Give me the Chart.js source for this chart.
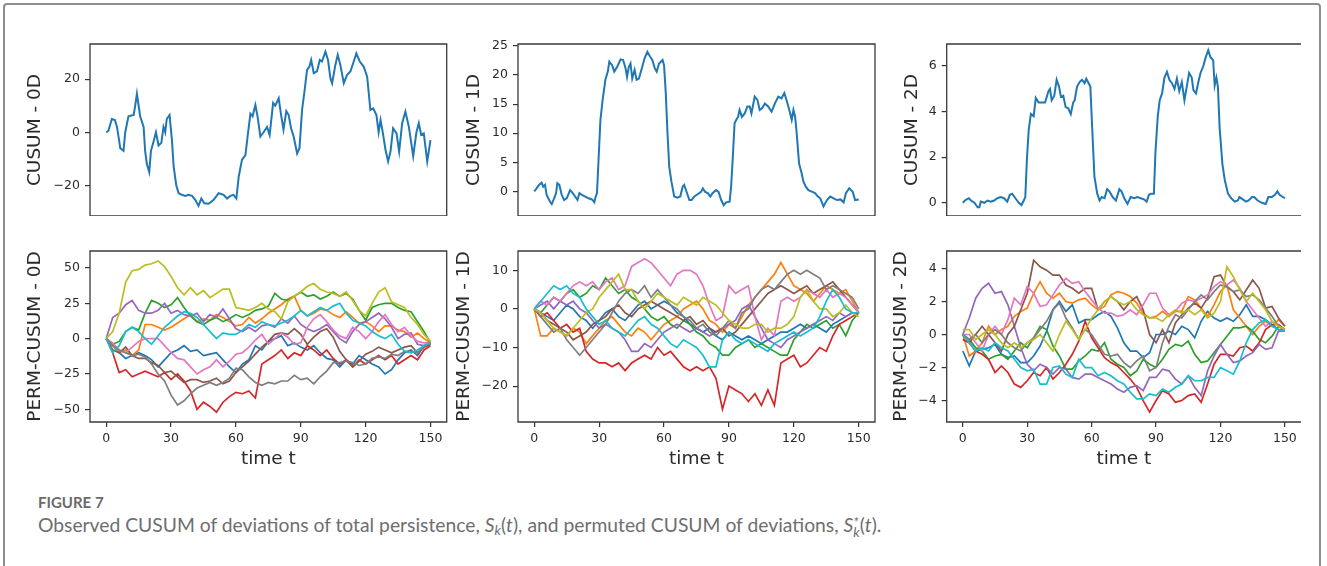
<!DOCTYPE html>
<html>
<head>
<meta charset="utf-8">
<script src="https://cdn.jsdelivr.net/npm/chart.js"></script>
<style>
  body { margin: 0; background: #fff; width: 1327px; height: 566px; position: relative; overflow: hidden; }
  .frame { position: absolute; left: 3px; top: 3px; width: 1318px; height: 620px; box-sizing: border-box;
           border: 2px solid #8e8e8e; border-radius: 4px; }
  canvas { position: absolute; }
  #figlabel { position: absolute; left: 38px; top: 493px; font: 700 15px/1.2 Lato, "Open Sans", sans-serif; color: #6a6a6a; }
  #caption { position: absolute; left: 38px; top: 513px; font: 400 19.3px/1.2 Lato, "Open Sans", sans-serif; color: #6e6e6e; white-space: nowrap; }
  #caption i { font-style: italic; }
  #caption sub { font-size: 0.7em; vertical-align: -0.25em; line-height: 0; }
  .ss { display: inline-block; font-size: 0.7em; line-height: 0.75em; vertical-align: -0.35em; font-style: italic; }
</style>
</head>
<body>
<div class="frame"></div>
<canvas id="tl" width="428" height="182" style="left:20px;top:34px"></canvas>
<canvas id="tm" width="428" height="182" style="left:448px;top:34px"></canvas>
<canvas id="tr" width="427" height="182" style="left:876px;top:34px"></canvas>
<canvas id="bl" width="428" height="240" style="left:20px;top:240px"></canvas>
<canvas id="bm" width="428" height="240" style="left:448px;top:240px"></canvas>
<canvas id="br" width="427" height="240" style="left:876px;top:240px"></canvas>
<div id="figlabel">FIGURE 7</div>
<div id="caption">Observed CUSUM of deviations of total persistence, <i>S<sub>k</sub></i>(<i>t</i>), and permuted CUSUM of deviations, <i>S</i><span class="ss">*<br>k</span>(<i>t</i>).</div>
<script>
const tObs0D = [0,1,2.6,4,5,6.5,8,8.8,10.3,12.7,13.4,14.2,15,15.7,17.3,18,18.8,19.9,20.7,21.9,23,24.2,25.5,26.5,27.3,28,29.3,30.4,31.2,32.4,33.5,35,36.6,38,39.7,41.2,42.7,44,45.4,47.4,49.7,52,54.3,55.9,57.4,58.9,60.2,61.3,62.8,64.4,65.4,66.7,67.7,69,70,71.3,72.8,74.4,75.6,77.2,78.2,79.8,80.9,82,83.3,84.4,85.5,86.7,88.3,89.4,90.6,91.8,92.9,94,94.8,96,97.5,98.8,99.8,101.4,102.6,103.7,104.5,106,107.1,108.3,109.9,111.4,113,114.5,115.7,117.3,119.1,120.7,122.2,123.5,125,126,126.9,128,129.2,130.4,131.5,132.7,134.3,135.5,136.9,138.4,140,142,143.5,144.6,145.7,146.9,148.5,150];
const cusum0D = [0,0.5,5,4.6,2,-6,-7,0,6,6.5,10,14.5,10,6,2,-7,-12,-15,-7,-3.5,0,-5,-4,2,0,5,6.5,-3,-13,-20,-23,-23.6,-24,-23.6,-24,-25.5,-27.8,-25,-26.8,-27,-25.5,-23,-23.6,-25,-24,-23.6,-25,-16.7,-10.4,-8.6,-1.6,7,6,10.3,6,-1.6,0,2,-1,11,10,12.8,6.5,1,8,6.5,1.5,-1.6,-8,-6,8.4,16,23.5,24.8,27.3,22.3,23,27.3,26.7,30.4,27.3,20.4,18.5,25.4,29.2,25.4,18.5,21.6,23,26.7,29.8,26.7,24.8,21,8.4,9,6.5,0,4.6,-0.4,-6.7,-11,-7.3,1.5,-0.4,-7.3,3.4,7.8,2,-9,0,3.4,-1,-0.4,-11,-3];

const tObs1D = [0,1.1,2.2,3.4,4.2,5,5.7,7.3,8.1,9.2,10.1,10.7,11.6,12.7,13.8,15,16.6,17.8,18.9,20,20.9,22,23.6,25.1,26.7,27.8,28.2,29,29.8,30.6,31.6,32.9,34,34.7,36,37,38.3,39.9,41.1,42.2,42.9,43.7,44.5,45.3,46.4,47.3,48.4,49.9,51,52.3,53.5,54.6,55.7,56.6,57.7,59.3,60,60.8,61.6,62.4,63.4,64.7,66.2,67.5,68.6,69.3,70.6,71.7,72.7,74,75.5,77.1,77.9,79,80.2,81.4,82.5,84.1,85.2,86.4,87.6,88.7,90.3,91,91.8,92.6,93.4,94.2,94.9,96,97.3,98.5,99.6,100.4,101.9,103.2,104.2,105.3,106.6,108.1,109.7,111.2,112.8,114.3,115.6,116.6,117.9,119,119.8,120.6,121.3,122.4,123.6,124.4,125.5,126.7,128.6,129.8,131.1,132.2,133.7,135.3,136.8,138.4,139.9,141.5,143,144.1,145.6,147.2,148.3,150];
const cusum1D = [0,0.5,1.1,1.5,0.8,1.1,-0.6,-1.8,-2.2,-1.2,-0.3,1.4,1.1,-0.6,-1.5,-1.2,0.2,-0.3,-0.9,-1.5,-0.3,-0.6,-0.9,-1.2,-1.4,-1.9,-1.2,-0.3,6,12.3,15.7,19.2,20.6,22.3,21.7,20.6,21.4,22.7,22.6,21.2,19.7,21.4,22,19.4,20.9,19.2,19.4,21.4,22.9,24,23.2,22.6,21.2,20.6,22,22.6,21.7,16.9,10,4.2,1.7,-0.9,-1.1,-0.9,0.8,1.1,-0.3,-1.5,-1.5,-0.9,-0.5,-0.1,0.5,-0.1,-0.3,-0.9,-0.3,0.2,-0.1,-1.5,-2.4,-1.9,-1.8,0.8,6,11.7,12.3,12.8,14,12.8,13.4,14.6,14.6,13.4,16.3,15.7,14,14.3,15.1,14.6,13.7,15.1,16.3,16,16.9,15.7,14,12.3,14,12.8,10,4.8,3.1,1.7,0.8,0.2,-0.1,-0.3,-0.9,-1.2,-2.6,-1.5,-0.9,-1.2,-1.5,-1.4,-1.9,-0.3,0.5,-0.1,-1.5,-1.4];

const tObs2D = [0,1,1.8,2.8,3.8,5.4,6.9,7.7,8.4,10,11.5,13,14.6,16.1,17.6,19.2,20.7,21.9,23,24.5,26.1,27.3,28.4,29.1,29.9,30.7,31.7,33,34,35.3,36.8,38.3,39.9,40.6,41.4,42.6,43.7,44.8,45.7,46.8,47.9,49.1,50.3,51.4,52.1,53.2,54.4,55.5,56.7,57.5,58.3,59.4,60.3,61.3,62.6,63.7,64.7,66,67.2,68.3,69.8,71.3,72.9,73.9,75.2,76.7,78.2,79.8,81.3,82.8,84.4,85.6,86.7,87.7,89,89.7,90.8,91.7,92.8,93.9,95.1,96.2,97.4,98.6,99.7,100.8,102,103.2,104.3,105.4,106.6,107.4,108.6,109.7,110.7,112,113,114.3,115.3,116.6,117.3,118.1,118.8,119.6,120.9,122,123.5,125,126.7,128.1,128.8,130.4,131.9,133.1,134.7,135.7,137.3,139.3,141.1,142.3,143.9,145.4,146.5,147.5,150];
const cusum2D = [0,0.1,0.15,0.2,0.1,0,-0.2,-0.2,0.05,0,0.1,0.05,0.1,0.2,0.25,0.2,0.05,0.35,0.4,0.2,0,-0.1,0.1,0.25,2,3.2,3.9,3.8,4.6,4.4,4.4,4.4,4.9,5,4.5,4.7,5.4,5.1,4.65,4.7,4.2,4.15,3.9,4.4,4.5,5.1,5.3,5.4,5.25,5.45,5.3,5.1,3.2,1.15,0.4,0.1,0.25,0.2,0.6,0.5,0.25,0.1,0.6,0.5,0.2,-0.05,0.25,0.2,0.25,0.2,0.15,0.05,0.35,0.4,0.4,2.2,3.8,4.5,4.8,5.5,5.75,5.4,5.25,5,5.45,4.9,5.3,4.5,5.1,5.7,5.5,4.95,4.8,5.3,5.7,6,6.35,6.7,6.4,6.25,5.15,5.5,5.1,3.3,1.7,1,0.4,0.2,0.05,0.1,0.25,0.15,0.05,0.1,0.25,0.25,0.1,0,-0.05,0.25,0.25,0.35,0.5,0.35,0.2];

// ---- permuted CUSUM (bottom row), 10 permutations, sampled every 3 steps ----
const tPerm = [0,3,6,9,12,15,18,21,24,27,30,33,36,39,42,45,48,51,54,57,60,63,66,69,72,75,78,81,84,87,90,93,96,99,102,105,108,111,114,117,120,123,126,129,132,135,138,141,144,147,150];

const perm0D = [
  [0,-5,-10,-14,-12,-10,-12,-15,-20,-15,-10,-8,-5,-9,-8,-12,-11,-10,-15,-20,-24,-18,-15,-5,-8,-2,0,2,-5,-3,-6,-8,-5,-10,-14,-15,-20,-15,-18,-12,-15,-18,-20,-25,-22,-15,-10,-8,-12,-5,-4],
  [0,-5,-10,-8,-12,-8,10,10,8,6,8,11,14,17,12,14,13,17,15,12,9,10,15,11,14,18,21,24,28,30,20,16,18,21,20,17,15,19,15,11,12,9,5,9,9,6,5,1,4,0,-3],
  [0,-4,-2,5,8,6,18,27,25,22,24,29,22,16,12,10,13,15,12,14,17,15,17,20,21,23,32,28,27,30,33,30,31,28,30,33,30,32,28,20,13,22,24,25,25,22,20,19,12,5,-3],
  [0,-10,-24,-22,-27,-25,-23,-25,-27,-24,-29,-25,-30,-37,-50,-45,-48,-52,-45,-41,-38,-39,-37,-42,-18,-15,-12,-8,-14,-10,-12,-5,-8,-12,-8,-14,-18,-15,-20,-15,-18,-15,-12,-15,-12,-18,-15,-12,-15,-8,-5],
  [0,15,18,24,27,20,18,18,20,25,18,20,17,16,18,12,17,15,21,14,7,5,8,5,9,10,8,14,11,16,10,7,5,7,10,5,0,-3,5,10,12,15,18,14,8,0,3,4,-4,-5,-3],
  [0,-8,-10,-6,-12,-14,-14,-17,-19,-24,-23,-27,-31,-29,-29,-31,-30,-28,-32,-30,-24,-20,-16,-11,-6,-2,3,4,3,7,3,-4,1,5,7,1,-9,-15,-20,-16,-11,-9,-6,-8,-10,-8,-6,-5,-10,-6,-4],
  [0,-3,-8,-10,-6,-2,0,0,0,-5,-10,-14,-15,-20,-25,-22,-20,-15,-20,-16,-11,-10,-6,-1,3,-4,0,4,1,-4,-3,8,14,17,12,6,2,0,8,5,0,5,12,17,10,5,8,2,-2,-3,-3],
  [0,-5,-8,-10,-12,-11,-13,-18,-25,-30,-40,-47,-44,-39,-35,-33,-31,-33,-31,-28,-21,-22,-27,-31,-33,-31,-32,-30,-30,-26,-29,-28,-32,-27,-23,-17,-17,-16,-17,-19,-18,-14,-13,-14,-11,-12,-9,-9,-10,-5,-3],
  [0,5,18,40,48,49,52,53,55,51,44,36,31,36,31,34,29,32,35,35,22,21,20,22,25,21,19,14,26,30,33,37,39,35,33,32,30,33,27,20,16,25,33,36,26,24,22,15,10,3,-2],
  [0,-10,-5,5,8,5,0,-4,2,8,12,16,19,18,15,10,5,0,4,3,3,6,10,8,12,10,9,11,13,16,20,16,19,22,20,23,25,18,13,11,9,5,2,0,3,-4,-9,-10,-8,-5,-3]
];

const perm1D = [
  [0,-1,-2,-3,-1,1,0,-2,-3,-5,-3,-1,0,-2,-3,-1,1,2,0,1,2,1,-1,-2,-4,-5,-6,-5,-7,-8,-6,-7,-8,-7,-8,-9,-8,-7,-6,-6,-5,-4,-5,-4,-5,-6,-4,-3,-2,-1,-1],
  [0,-7,-7,-5,-6,-7,-5,-6,-9,-7,-5,-3,-2,-4,-6,-7,-5,-6,-8,-6,-4,-3,-2,0,1,2,0,-3,-4,-6,-4,-5,-2,1,3,5,7,9,12,9,6,5,4,2,4,6,5,4,5,2,-1],
  [0,-1,1,3,2,4,5,3,4,6,5,8,6,4,5,3,2,0,-2,-3,-2,-4,-5,-3,-4,-6,-7,-9,-10,-12,-12,-10,-9,-8,-10,-9,-10,-11,-12,-12,-8,-6,-4,-5,-4,-3,-5,-4,-7,-3,-1],
  [0,-2,-1,-3,-5,-4,-6,-5,-11,-13,-14,-14,-15,-14,-16,-14,-13,-12,-13,-10,-12,-11,-13,-15,-16,-15,-16,-15,-18,-26,-20,-21,-22,-24,-22,-25,-21,-25,-14,-13,-12,-15,-14,-12,-10,-11,-7,-4,-3,-2,-1],
  [0,1,2,0,2,1,2,0,-1,-3,-5,-4,-5,-6,-8,-11,-11,-9,-10,-8,-6,-5,-4,-5,-6,-5,-6,-7,-6,-5,-4,-3,0,1,-2,-5,-8,-9,-10,-8,-7,-6,-5,-4,-3,-2,-3,-1,-2,-1,-1],
  [0,-1,-3,-4,-5,-6,-8,-7,-6,-4,-3,-2,0,1,-1,-2,0,1,2,1,0,-1,-2,-3,-2,-4,-3,-5,-6,-5,-7,-6,-4,-2,0,2,4,5,6,5,4,5,6,4,5,6,7,5,3,1,-1],
  [0,2,1,3,2,4,6,7,6,7,5,7,8,5,6,11,12,13,12,10,8,6,9,10,10,9,6,1,-3,-2,6,4,5,6,-2,-8,-5,-7,2,3,2,3,5,4,3,5,3,4,3,1,-1],
  [0,-2,-4,-6,-5,-8,-10,-12,-10,-8,-6,-4,-1,2,4,5,4,6,3,5,3,1,0,-2,-3,-5,-4,-6,-7,-5,-3,-5,-1,0,3,5,6,5,7,9,10,9,10,9,8,5,6,5,4,3,0],
  [0,-1,-3,-5,-6,-7,-5,-3,-1,0,3,5,7,9,5,5,2,0,2,4,3,2,1,3,2,1,3,2,1,-1,-3,-4,-5,-5,-4,-4,-6,-5,-5,-4,-2,3,5,2,0,0,-2,-1,1,-1,-2],
  [0,2,4,6,5,6,4,3,0,-2,-4,-3,-5,-6,-7,-5,-3,-2,-4,-5,-7,-9,-10,-8,-9,-10,-12,-15,-15,-8,-6,-8,-9,-8,-9,-10,-11,-9,-8,-7,-6,-7,-6,-5,-2,2,5,3,0,-1,-1]
];

const perm2D = [
  [-1,-1.9,-1,-0.9,-0.8,-0.6,-1.2,-1.4,-1.3,-1.7,-1.7,-1.3,-0.7,0.2,1.5,2,1.4,1.8,0.7,0.9,0.9,1.2,1.4,1.1,0.4,-0.5,-1,-1,-1.4,-1.1,0,0,0.2,0,0.5,0.3,-0.2,0.8,1.4,1,0.8,1,0.8,1.2,1.8,1.1,1.1,0.9,0.6,0.3,0.3],
  [0,-1.3,-1,-0.5,0.5,0,0.3,0.5,1.1,1.4,1.6,2.5,3.2,2.5,2.2,2.5,2,1.9,2.1,2.2,1.8,1.5,1.7,2.4,2.6,2.5,2.3,1.9,1.3,1,1.1,1.4,1.1,1.4,1.4,2.3,2.1,1.6,1.1,1.8,2.6,3,1.5,1,0.5,0,0.5,0.8,0.5,0.9,0.5],
  [0,-0.3,-0.8,-1,-1.5,-1.3,-1.2,-1.5,-1,-0.5,-0.8,-0.2,0.5,0.3,-0.7,-1.3,-2.1,-2.1,-1.6,-1.3,-0.9,-1,-0.5,-1.5,-1.8,-2,-2.5,-2.2,-1.5,-1.8,-2,-1.5,-0.9,-0.6,-0.7,-0.4,-1.2,-1.7,-1.6,-1.1,-0.6,-0.1,0.4,0.4,0.5,0.2,-0.3,-0.5,-0.1,0.5,0.3],
  [-0.3,-0.5,-1,-1.2,-1.5,-2.3,-1.9,-2.3,-3,-3.2,-2.8,-2.3,-2.5,-2,-2.7,-2.3,-1.8,-1.2,-0.4,0.8,-0.2,-0.8,-1.4,-1.7,-1.9,-2.3,-2.7,-3.2,-4,-4.7,-4,-3.4,-3.6,-4.1,-4,-3.7,-3.6,-4.1,-3,-1.8,-1.2,-1.2,-1.3,-0.8,-0.7,-1,-0.5,0.3,0.6,0.6,0.3],
  [0,1,2.2,2.8,3.1,2.5,2.6,1.8,0.5,-0.8,-1.8,-2.2,-1.8,-2,-2.4,-2,-2.1,-2.6,-2.7,-2.4,-2.4,-2.6,-2.8,-3,-3.3,-3.5,-3.2,-3.1,-3.4,-2.6,-2.6,-2.1,-2.2,-2.7,-3,-2.5,-3.2,-3.7,-2.2,-1.3,-0.6,-1.2,-1.7,-1.6,-1.3,-1.1,-0.6,-0.9,-0.8,0.2,0.2],
  [0,-0.5,0,0.5,0,-0.5,-1,0,0.5,1.5,2.5,4.5,4.1,3.9,3.6,3.6,3,2.8,2.5,2.8,2.8,1.5,2,2.3,2,1.5,2,2.3,1.5,0,-0.5,0.3,-0.5,0.7,1.2,1.6,1.9,1.6,2.2,3.5,3.6,2.9,2.6,2.1,2.7,3.3,2.8,1.6,1.7,1,0.5],
  [0,0,-0.5,-1,0,0.5,0,0.9,2.2,1.8,2.9,2.5,1.7,1.8,2.4,3,3.4,3.1,3.2,2.6,2.1,1.6,1.3,1.3,1.1,1.2,1.5,1.2,1.8,2.5,2.5,1.6,1.2,1.4,1.9,2.1,2,2.2,2.4,2.9,3.2,3,3.3,2.8,2,1.5,1,0.5,0.8,0.5,0.3],
  [0,-0.3,0,-0.5,0,0.3,0,-0.5,-0.8,-1,-0.5,-0.2,0.3,0.8,1.5,1.9,1,0.4,-0.3,0.3,0,-0.6,-1.2,-1.3,-1.2,-1.7,-2,-1.6,-1.3,-2.2,-2,-0.5,0.5,1.2,1,1.5,2,2.4,2.1,2.6,3,2.9,2.6,2.7,2.3,2.4,2.1,1.6,1.1,0.5,0.3],
  [0.3,0.3,-0.3,0,0.3,0,-0.5,-0.8,-0.5,-0.8,-0.5,-0.3,0,-0.5,-1,0,0.8,0.3,-0.3,0.3,1,1.5,2,2.3,2,1.8,2,1.5,1.2,1,1,0.8,1.2,1.5,1.3,1.5,1.2,1.5,1,1.3,2,4.1,3.5,2.7,2,2.5,2,1.5,0.8,0.5,0.3],
  [0,-0.5,-1,-0.8,-1,-0.5,-0.8,-1,-1.5,-2,-2.2,-2.1,-3,-3,-2,-1.9,-2.4,-2.6,-1.5,-2,-2,-2.5,-2.3,-2.5,-2.8,-3,-3.5,-3.9,-3.9,-3.6,-3.7,-3.3,-3.5,-3.2,-3,-2.5,-2.8,-2.8,-2.6,-2.6,-2,-2.2,-2.4,-1.6,-0.5,0.3,0.7,0.9,0.5,0.3,0.2]
];

// tick labels
const xTicks = [0, 30, 60, 90, 120, 150];
const yTicks0D = [-20, 0, 20];
const yTicks1D = [0, 5, 10, 15, 20, 25];
const yTicks2D = [0, 2, 4, 6];
const yTicksP0D = [-50, -25, 0, 25, 50];
const yTicksP1D = [-20, -10, 0, 10];
const yTicksP2D = [-4, -2, 0, 2, 4];

const tab10 = ['#1f77b4', '#ff7f0e', '#2ca02c', '#d62728', '#9467bd',
               '#8c564b', '#e377c2', '#7f7f7f', '#bcbd22', '#17becf'];

const INK = '#2b2b2b';

// draws the axes box (matplotlib spines)
const framePlugin = {
  id: 'frame',
  afterDatasetsDraw(chart, args, opts) {
    const a = chart.chartArea, ctx = chart.ctx;
    ctx.save();
    ctx.strokeStyle = '#3a3a3a';
    ctx.lineWidth = 1.3;
    ctx.beginPath();
    if (opts.openRight) {
      ctx.moveTo(a.right, a.top);
      ctx.lineTo(a.left, a.top);
      ctx.lineTo(a.left, a.bottom);
      ctx.lineTo(a.right, a.bottom);
    } else {
      ctx.rect(a.left, a.top, a.right - a.left, a.bottom - a.top);
    }
    ctx.stroke();
    ctx.restore();
  }
};

const fmt = v => String(v).replace('-', '\u2212');

function makeChart(id, o) {
  const datasets = o.series.map((ys, i) => ({
    data: ys.map((y, j) => ({ x: o.xs[j], y: y })),
    borderColor: o.colors[i],
    borderWidth: o.lw,
    pointRadius: 0,
    tension: 0,
    fill: false,
    order: o.series.length - i
  }));

  const xScale = {
    type: 'linear', min: -7.5, max: 157.5,
    display: o.showX,
    afterBuildTicks: s => { s.ticks = xTicks.map(v => ({ value: v })); },
    afterFit: s => { s.height = o.showX ? 58 : 0; s.paddingLeft = 0; s.paddingRight = 0; },
    grid: { display: true, drawOnChartArea: false, drawTicks: true, tickLength: 5, color: '#333', lineWidth: 1.2 },
    border: { display: false },
    ticks: { color: INK, padding: 4, font: { family: 'DejaVu Sans', size: 12.5 }, maxRotation: 0, autoSkip: false, callback: fmt },
    title: { display: true, text: 'time t', color: INK, font: { family: 'DejaVu Sans', size: 18.5 }, padding: { top: 0, bottom: 10 } }
  };

  const yScale = {
    type: 'linear', position: 'left', min: o.yMin, max: o.yMax,
    afterBuildTicks: s => { s.ticks = o.yTicks.map(v => ({ value: v })); },
    afterFit: s => { s.width = o.yw; s.paddingTop = 0; s.paddingBottom = 0; },
    grid: { display: true, drawOnChartArea: false, drawTicks: true, tickLength: 5, color: '#333', lineWidth: 1.2 },
    border: { display: false },
    ticks: { color: INK, padding: 5, font: { family: 'DejaVu Sans', size: 12.5 }, autoSkip: false, callback: fmt },
    title: { display: true, text: o.ylabel, color: INK, font: { family: 'DejaVu Sans', size: 18.5 }, padding: { top: o.titlePad, bottom: 0 } }
  };

  return new Chart(document.getElementById(id), {
    type: 'line',
    data: { datasets },
    options: {
      responsive: false,
      animation: false,
      layout: { padding: { top: o.padTop, right: o.padRight, left: 0, bottom: 0 } },
      plugins: { legend: { display: false }, tooltip: { enabled: false }, frame: { openRight: o.openRight } },
      scales: { x: xScale, y: yScale }
    },
    plugins: [framePlugin]
  });
}

// top row: observed CUSUM
function topSeries(ts, vs) { return { xs: ts, series: [vs] }; }

makeChart('tl', Object.assign(topSeries(tObs0D, cusum0D), {
  colors: [tab10[0]], lw: 2, showX: false, yMin: -31.6, yMax: 33.3, yTicks: yTicks0D,
  ylabel: 'CUSUM - 0D', yw: 70, titlePad: 4, padTop: 10, padRight: 1.3, openRight: false }));
makeChart('tm', Object.assign(topSeries(tObs1D, cusum1D), {
  colors: [tab10[0]], lw: 2, showX: false, yMin: -4.25, yMax: 25.35, yTicks: yTicks1D,
  ylabel: 'CUSUM - 1D', yw: 70, titlePad: 15, padTop: 10, padRight: 1, openRight: false }));
makeChart('tr', Object.assign(topSeries(tObs2D, cusum2D), {
  colors: [tab10[0]], lw: 2, showX: false, yMin: -0.58, yMax: 6.97, yTicks: yTicks2D,
  ylabel: 'CUSUM - 2D', yw: 70.7, titlePad: 25, padTop: 10, padRight: 2, openRight: true }));

// bottom row: permuted CUSUM
makeChart('bl', { xs: tPerm, series: perm0D, colors: tab10, lw: 1.7, showX: true,
  yMin: -59, yMax: 62, yTicks: yTicksP0D, ylabel: 'PERM-CUSUM - 0D', yw: 70, titlePad: 4,
  padTop: 11, padRight: 1.3, openRight: false });
makeChart('bm', { xs: tPerm, series: perm1D, colors: tab10, lw: 1.7, showX: true,
  yMin: -29.3, yMax: 15.0, yTicks: yTicksP1D, ylabel: 'PERM-CUSUM - 1D', yw: 70, titlePad: 5,
  padTop: 11, padRight: 1, openRight: false });
makeChart('br', { xs: tPerm, series: perm2D, colors: tab10, lw: 1.7, showX: true,
  yMin: -5.3, yMax: 5.06, yTicks: yTicksP2D, ylabel: 'PERM-CUSUM - 2D', yw: 70.7, titlePad: 14,
  padTop: 11, padRight: 2, openRight: true });
</script>
</body>
</html>
